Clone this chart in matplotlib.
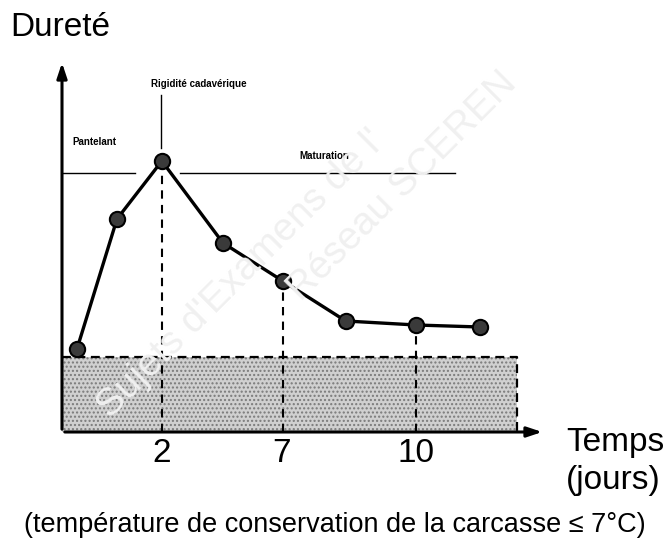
import matplotlib.pyplot as plt
from matplotlib.patches import Rectangle

# time positions (schematic, non-linear scale) and hardness (arbitrary units)
temps = [0.34, 1.25, 2.27, 3.66, 5.02, 6.45, 8.05, 9.5]
durete = [8.3, 21.3, 27.1, 18.9, 15.1, 11.1, 10.7, 10.5]

tick_pos = [2.27, 5.0, 8.05]
tick_labels = ["2", "7", "10"]

xmax, ymax = 10.98, 37.2
zone_right, zone_top = 10.34, 7.5
phase_y = 25.9

sans = ["Liberation Sans", "DejaVu Sans"]

fig = plt.figure(figsize=(6.71, 5.49), dpi=100)
ax = fig.add_axes([62 / 671, 117 / 549, 483 / 671, 372 / 549])
ax.set_xlim(0, xmax)
ax.set_ylim(0, ymax)
for s in ax.spines.values():
    s.set_visible(False)
ax.set_xticks([])
ax.set_yticks([])

# faint watermark
fig.text(0.36, 0.50, "Sujets d'Examens de l'", rotation=45, fontsize=28,
         color="#f0f0f0", ha="center", va="center", family=sans, zorder=0)
fig.text(0.60, 0.66, "Réseau SCEREN", rotation=45, fontsize=28,
         color="#f0f0f0", ha="center", va="center", family=sans, zorder=0)

# storage zone (cold)
ax.add_patch(Rectangle((0, 0), zone_right, zone_top, facecolor="#d0d0d0",
                       edgecolor="#7a7a7a", hatch="....", linewidth=0, zorder=1))
ax.plot([0, zone_right, zone_right], [zone_top, zone_top, 0], color="black",
        linestyle=(0, (4, 2.5)), linewidth=1.6, zorder=2)

# dashed verticals down to the time axis
for i in [2, 4, 6]:
    ax.plot([temps[i], temps[i]], [0, durete[i]], color="black",
            linestyle=(0, (4, 3)), linewidth=1.5, zorder=2)

# phase lines
ax.plot([0, 1.65], [phase_y, phase_y], color="black", linewidth=1, zorder=2)
ax.plot([2.68, 8.93], [phase_y, phase_y], color="black", linewidth=1, zorder=2)
ax.plot([2.25, 2.25], [28.4, 33.7], color="black", linewidth=1, zorder=2)

ax.text(0.23, 29.0, "Pantelant", fontsize=7, fontweight="bold", ha="left",
        va="center", family=sans)
ax.text(5.4, 27.6, "Maturation", fontsize=7, fontweight="bold", ha="left",
        va="center", family=sans)
ax.text(3.1, 34.8, "Rigidité cadavérique", fontsize=7, fontweight="bold",
        ha="center", va="center", family=sans)

# curve
ax.plot(temps, durete, color="black", linewidth=2.4, marker="o", markersize=11,
        markerfacecolor="#3a3a3a", markeredgecolor="black", markeredgewidth=1.5, zorder=4)

# axes arrows
ax.annotate("", xy=(xmax, 0), xytext=(0, 0),
            arrowprops=dict(arrowstyle="-|>,head_length=0.9,head_width=0.3",
                            color="black", lw=2.2), annotation_clip=False)
ax.annotate("", xy=(0, ymax), xytext=(0, 0),
            arrowprops=dict(arrowstyle="-|>,head_length=0.9,head_width=0.3",
                            color="black", lw=2.2), annotation_clip=False)

for p, lab in zip(tick_pos, tick_labels):
    ax.text(p, -0.6, lab, fontsize=24, ha="center", va="top", family=sans)

fig.text(10 / 671, 1 - 28 / 549, "Dureté", fontsize=24, ha="left", va="center", family=sans)
fig.text(566 / 671, 1 - 443 / 549, "Temps", fontsize=24, ha="left", va="center", family=sans)
fig.text(566 / 671, 1 - 480 / 549, "(jours)", fontsize=24, ha="left", va="center", family=sans)
fig.text(335 / 671, 1 - 525 / 549,
         "(température de conservation de la carcasse \u2264 7°C)",
         fontsize=19.5, ha="center", va="center", family=sans)

fig.savefig("out.png", dpi=100)
